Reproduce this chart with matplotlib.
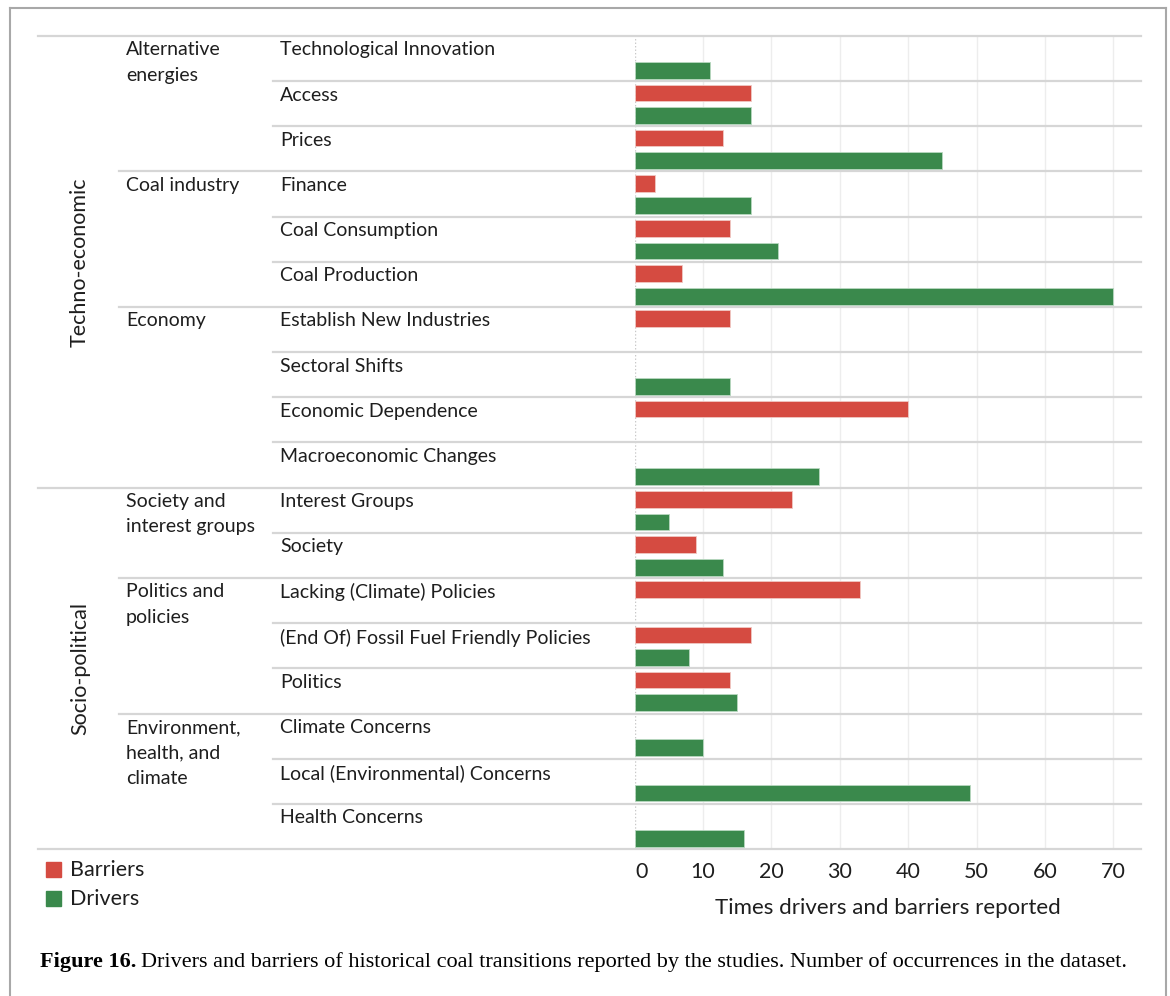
import numpy as np
import matplotlib
matplotlib.use("Agg")
import matplotlib.pyplot as plt
from matplotlib.transforms import blended_transform_factory, ScaledTranslation
from matplotlib.lines import Line2D

# data
categories = ["Technological Innovation", "Access", "Prices", "Finance",
              "Coal Consumption", "Coal Production", "Establish New Industries",
              "Sectoral Shifts", "Economic Dependence", "Macroeconomic Changes",
              "Interest Groups", "Society", "Lacking (Climate) Policies",
              "(End Of) Fossil Fuel Friendly Policies", "Politics",
              "Climate Concerns", "Local (Environmental) Concerns", "Health Concerns"]
barriers = [0, 17, 13, 3, 14, 7, 14, 0, 40, 0, 23, 9, 33, 17, 14, 0, 0, 0]
drivers = [11, 17, 45, 17, 21, 70, 0, 14, 0, 27, 5, 13, 0, 8, 15, 10, 49, 16]

subgroups = ["Alternative\nenergies", "Coal industry", "Economy",
             "Society and\ninterest groups", "Politics and\npolicies",
             "Environment,\nhealth, and\nclimate"]
subgroup_start = [0, 3, 6, 10, 12, 15]
groups = ["Techno-economic", "Socio-political"]
group_span = [(0, 10), (10, 18)]

RED = "#D54B41"
GREEN = "#3A894C"
TXT = "#1E1E1E"
W, H = 1170, 996

plt.rcParams['font.family'] = ['Lato', 'DejaVu Sans']
fig = plt.figure(figsize=(W / 100, H / 100), dpi=100)

def px(x):
    return x / W

def py(y):
    return 1 - y / H

ax_l, ax_r, ax_t, ax_b = 634.5, 1140.7, 36, 849
ax = fig.add_axes([px(ax_l), py(ax_b), px(ax_r - ax_l), py(ax_t) - py(ax_b)])

n = len(categories)
idx = np.arange(n)
b = np.array(barriers, dtype=float)
d = np.array(drivers, dtype=float)
mb = b > 0
md = d > 0
ax.barh(idx[mb] + 0.26, b[mb], height=0.37, color=RED, edgecolor="#F0C8C4", linewidth=0.6, zorder=3)
ax.barh(idx[md] + 0.76, d[md], height=0.37, color=GREEN, edgecolor="#B8D8C0", linewidth=0.6, zorder=3)

ax.set_xlim(0, 74)
ax.set_ylim(n, 0)
for s in ax.spines.values():
    s.set_visible(False)
ax.set_yticks([])
ax.set_xticks(range(0, 71, 10))
ax.tick_params(axis='x', length=0, pad=9, labelsize=15.5, labelcolor=TXT)
for v in range(10, 71, 10):
    ax.axvline(v, color="#EDEDED", lw=1, zorder=1)
ax.axvline(0, color="#C8C8C8", lw=1, ls=(0, (1, 1.5)), zorder=1)
ax.set_xlabel("Times drivers and barriers reported", fontsize=16, color=TXT, labelpad=12)
# the "0" label sits a little right of the zero line
lab0 = ax.get_xticklabels()[0]
lab0.set_transform(lab0.get_transform() + ScaledTranslation(0.07, 0, fig.dpi_scale_trans))

# table lines and labels across the left part
tr = blended_transform_factory(fig.transFigure, ax.transData)
major = [s for s, e in group_span]
for k in range(n + 1):
    if k in (0, n) or k in major:
        x0 = 38
    elif k in subgroup_start:
        x0 = 119
    else:
        x0 = 273
    ax.add_line(Line2D([px(x0), px(ax_r)], [k, k], transform=tr, color="#D6D6D6",
                       lw=1.6, clip_on=False, zorder=2))

for i, c in enumerate(categories):
    ax.text(px(280), i + 0.12, c, transform=tr, ha='left', va='top', fontsize=14,
            color=TXT)
for s, lab in zip(subgroup_start, subgroups):
    ax.text(px(126), s + 0.12, lab, transform=tr, ha='left', va='top', fontsize=14,
            color=TXT, linespacing=1.6)
for (s, e), lab in zip(group_span, groups):
    ax.text(px(80), (s + e) / 2, lab, transform=tr, ha='center', va='center',
            rotation=90, fontsize=15.5, color=TXT)

# legend
for y0, col, lab in [(862, RED, "Barriers"), (891, GREEN, "Drivers")]:
    fig.patches.append(plt.Rectangle((px(46), py(y0 + 15)), px(15), 15 / H,
                                     transform=fig.transFigure, color=col))
    fig.text(px(70), py(y0 + 8), lab, ha='left', va='center', fontsize=15.5, color=TXT)

# frame
fc = "#A8A8A8"
for xs, ys in [([10, 10], [996, 8]), ([10, 1166], [8, 8]), ([1166, 1166], [8, 996])]:
    fig.add_artist(Line2D([px(x) for x in xs], [py(y) for y in ys],
                          transform=fig.transFigure, color=fc, lw=1.5))

# caption
cap_y = py(962)
t1 = fig.text(px(40), cap_y, "Figure 16.", ha='left', va='center', fontsize=16,
              family="Liberation Serif", weight='bold')
fig.canvas.draw()
bb = t1.get_window_extent()
fig.text(bb.x1 / W + px(5), cap_y,
         "Drivers and barriers of historical coal transitions reported by the studies. "
         "Number of occurrences in the dataset.",
         ha='left', va='center', fontsize=16, family="Liberation Serif")

fig.savefig("out.png", dpi=100)
